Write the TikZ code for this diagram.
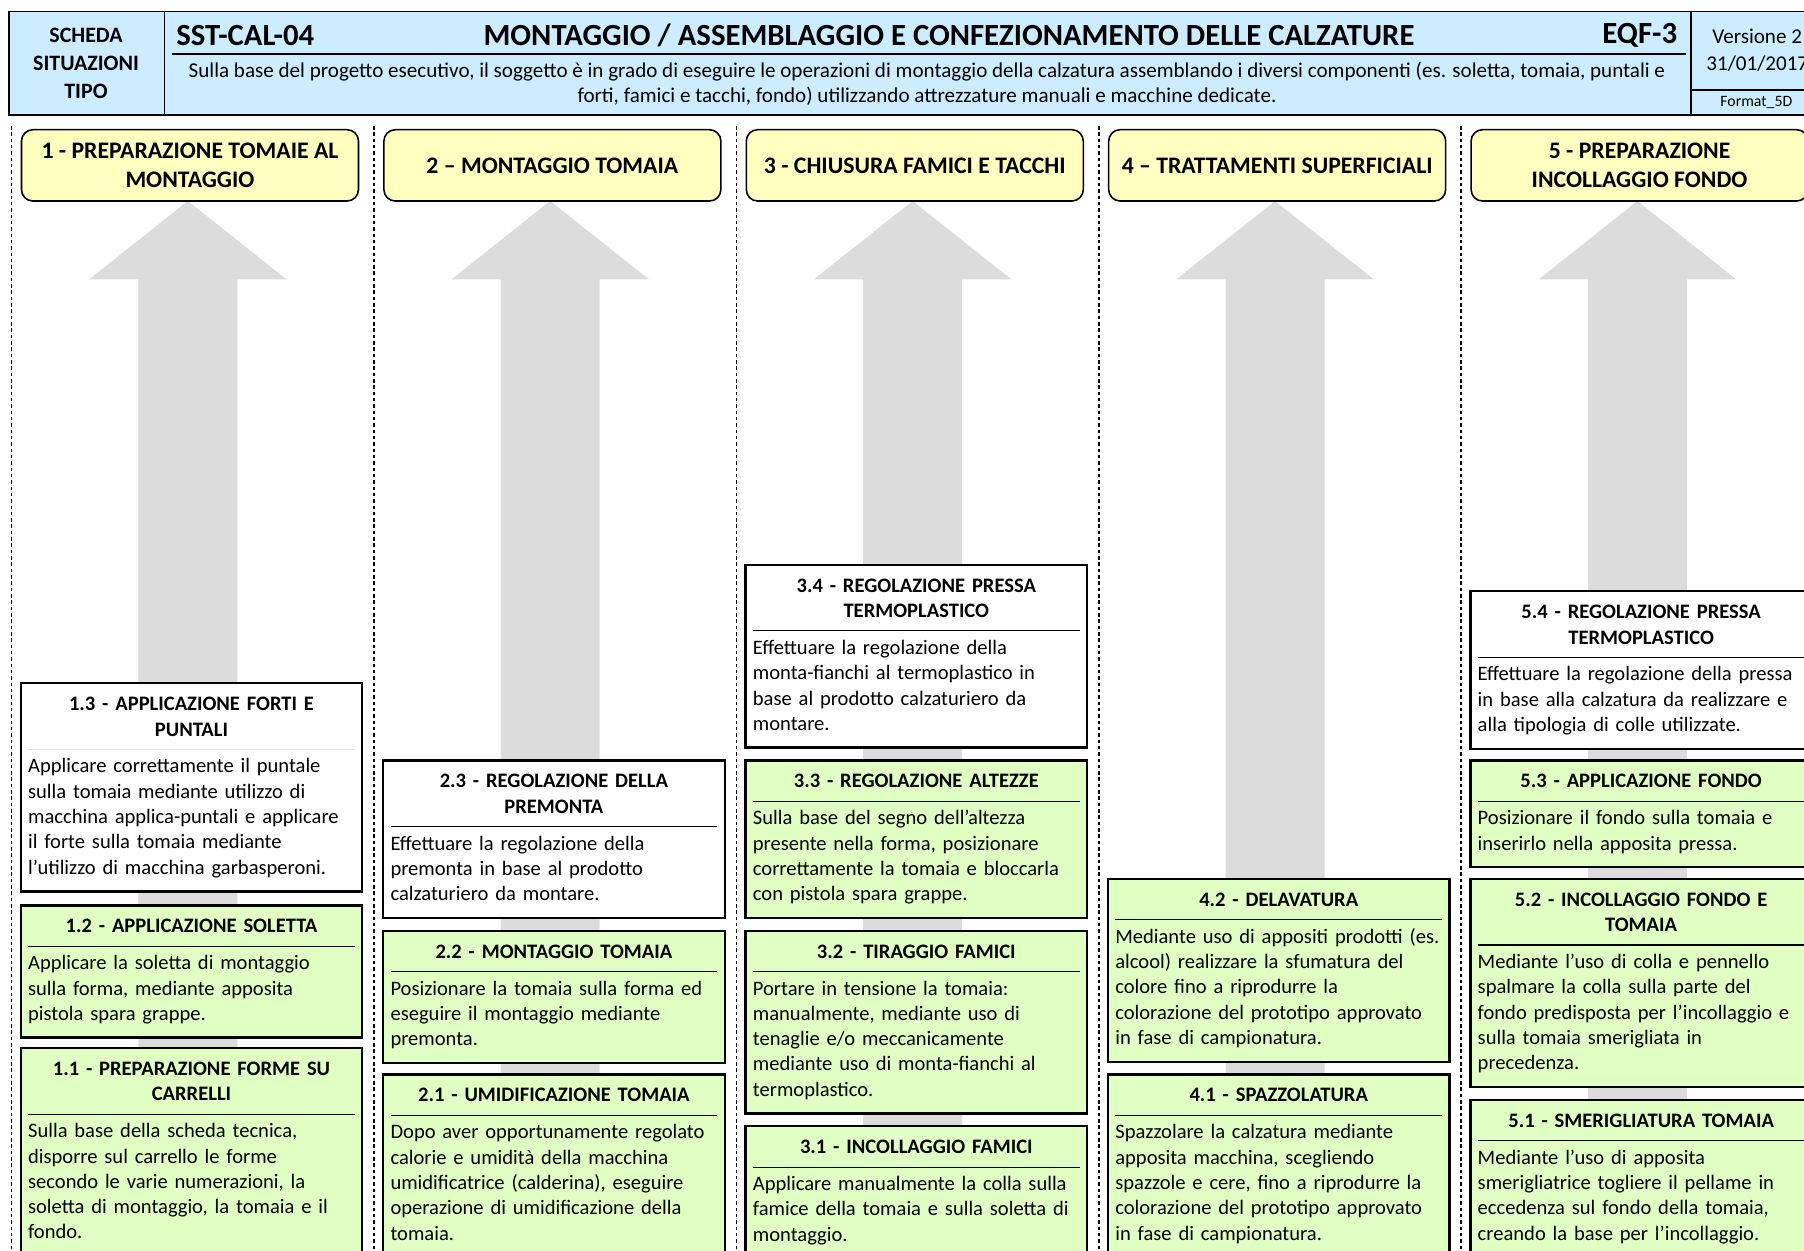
\documentclass[tikz,border=0pt]{standalone}
\usepackage{fontspec}
\setmainfont{Carlito}
\definecolor{headblue}{RGB}{204,236,255}
\definecolor{phaseyellow}{RGB}{255,255,192}
\definecolor{stepgreen}{RGB}{224,255,194}
\definecolor{arrowgrey}{RGB}{220,220,220}
\newcommand{\stepcard}[3][black]{{\centering\bfseries\strut#2\strut\par}\vspace{3pt}{\color{#1}\hrule height 0.6pt}\vspace{3pt}{\raggedright\strut#3\strut\par}}

\begin{document}
\begin{tikzpicture}[x=0.02cm, y=-0.02cm, font=\fontsize{11.7}{14.4}\selectfont,
  headtext/.style={inner sep=0pt},
  phase/.style={draw, line width=0.9pt, rounded corners=6.5pt, fill=phaseyellow, anchor=north west,
    minimum width=191.8pt, minimum height=40.6pt, align=center, inner sep=2pt,
    font=\bfseries\fontsize{13.5}{16.4}\selectfont},
  stepbox/.style={draw, line width=1.3pt, anchor=north west, text width=186pt,
    inner xsep=4.2pt, inner ysep=5.5pt},
  greenstep/.style={stepbox, fill=stepgreen},
  whitestep/.style={stepbox, fill=white},
  divider/.style={line width=0.9pt, dash pattern=on 2pt off 1.6pt}]
\clip (0,0) rectangle (1804,1250);

\draw[line width=1pt, fill=headblue] (9,11.5) rectangle (1830,115);
\draw[line width=1pt] (164.5,11.5) -- (164.5,115);
\draw[line width=1pt] (1691,11.5) -- (1691,115);
\draw[line width=1pt] (1691,90) -- (1830,90);
\draw[line width=0.8pt] (172,54) -- (1686,54);

\node[headtext, align=center, font=\bfseries\fontsize{12.5}{16}\selectfont] (scheda) at (86,63.3) {SCHEDA\\SITUAZIONI\\TIPO};
\node[headtext, anchor=west, font=\bfseries\fontsize{17.5}{20}\selectfont] (code) at (176,35.7) {SST-CAL-04};
\node[headtext, font=\bfseries\fontsize{17.5}{20}\selectfont] (title) at (949,35.7) {MONTAGGIO / ASSEMBLAGGIO E CONFEZIONAMENTO DELLE CALZATURE};
\node[headtext, anchor=east, font=\bfseries\fontsize{17.5}{20}\selectfont] (eqf) at (1677.5,35.7) {EQF-3};
\node[headtext, align=center, font=\fontsize{12}{14.4}\selectfont] (desc) at (927,84) {Sulla base del progetto esecutivo, il soggetto è in grado di eseguire le operazioni di montaggio della calzatura assemblando i diversi componenti (es. soletta, tomaia, puntali e\\forti, famici e tacchi, fondo) utilizzando attrezzature manuali e macchine dedicate.};
\node[headtext, anchor=west, font=\fontsize{12}{14.4}\selectfont] (version) at (1712,36.8) {Versione 2};
\node[headtext, anchor=west, font=\fontsize{12}{14.4}\selectfont] (date) at (1706,63.3) {31/01/2017};
\node[headtext, anchor=west, font=\fontsize{9}{11}\selectfont] (format) at (1720,102.4) {Format\_5D};

\fill[arrowgrey] (187.8,201) -- ++(98.7,78.3) -- ++(-49.2,0) -- ++(0,980) -- ++(-99,0) -- ++(0,-980) -- ++(-49.2,0) -- cycle;
\fill[arrowgrey] (550.2,201) -- ++(98.7,78.3) -- ++(-49.2,0) -- ++(0,980) -- ++(-99,0) -- ++(0,-980) -- ++(-49.2,0) -- cycle;
\fill[arrowgrey] (912.6,201) -- ++(98.7,78.3) -- ++(-49.2,0) -- ++(0,980) -- ++(-99,0) -- ++(0,-980) -- ++(-49.2,0) -- cycle;
\fill[arrowgrey] (1275,201) -- ++(98.7,78.3) -- ++(-49.2,0) -- ++(0,980) -- ++(-99,0) -- ++(0,-980) -- ++(-49.2,0) -- cycle;
\fill[arrowgrey] (1637.4,201) -- ++(98.7,78.3) -- ++(-49.2,0) -- ++(0,980) -- ++(-99,0) -- ++(0,-980) -- ++(-49.2,0) -- cycle;

\draw[divider] (11.5,126) -- (11.5,1250);
\draw[divider] (373.9,126) -- (373.9,1250);
\draw[divider] (736.3,126) -- (736.3,1250);
\draw[divider] (1098.7,126) -- (1098.7,1250);
\draw[divider] (1461.1,126) -- (1461.1,1250);

\node[phase] (phase1) at (20.7,128.9) {1 - PREPARAZIONE TOMAIE AL\\MONTAGGIO};
\node[phase] (phase2) at (383.1,128.9) {2 – MONTAGGIO TOMAIA};
\node[phase] (phase3) at (745.5,128.9) {3 - CHIUSURA FAMICI E TACCHI};
\node[phase] (phase4) at (1107.9,128.9) {4 – TRATTAMENTI SUPERFICIALI};
\node[phase] (phase5) at (1470.3,128.9) {5 - PREPARAZIONE\\INCOLLAGGIO FONDO};

\node[whitestep] (step13) at (19.6,682.2) {\stepcard[gray!25]{1.3 - APPLICAZIONE FORTI E\\PUNTALI}{Applicare correttamente il puntale\\sulla tomaia mediante utilizzo di\\macchina applica-puntali e applicare\\il forte sulla tomaia mediante\\l’utilizzo di macchina garbasperoni.}};
\node[greenstep] (step12) at (19.6,904.3) {\stepcard{1.2 - APPLICAZIONE SOLETTA}{Applicare la soletta di montaggio\\sulla forma, mediante apposita\\pistola spara grappe.}};
\node[greenstep] (step11) at (19.6,1047) {\stepcard{1.1 - PREPARAZIONE FORME SU\\CARRELLI}{Sulla base della scheda tecnica,\\disporre sul carrello le forme\\secondo le varie numerazioni, la\\soletta di montaggio, la tomaia e il\\fondo.}};

\node[whitestep] (step23) at (382,759.3) {\stepcard{2.3 - REGOLAZIONE DELLA\\PREMONTA}{Effettuare la regolazione della\\premonta in base al prodotto\\calzaturiero da montare.}};
\node[greenstep] (step22) at (382,929.6) {\stepcard{2.2 - MONTAGGIO TOMAIA}{Posizionare la tomaia sulla forma ed\\eseguire il montaggio mediante\\premonta.}};
\node[greenstep] (step21) at (382,1073.4) {\stepcard{2.1 - UMIDIFICAZIONE TOMAIA}{Dopo aver opportunamente regolato\\calorie e umidità della macchina\\umidificatrice (calderina), eseguire\\operazione di umidificazione della\\tomaia.}};

\node[whitestep] (step34) at (744.4,563.7) {\stepcard{3.4 - REGOLAZIONE PRESSA\\TERMOPLASTICO}{Effettuare la regolazione della\\monta-fianchi al termoplastico in\\base al prodotto calzaturiero da\\montare.}};
\node[greenstep] (step33) at (744.4,759.3) {\stepcard{3.3 - REGOLAZIONE ALTEZZE}{Sulla base del segno dell’altezza\\presente nella forma, posizionare\\correttamente la tomaia e bloccarla\\con pistola spara grappe.}};
\node[greenstep] (step32) at (744.4,929.6) {\stepcard{3.2 - TIRAGGIO FAMICI}{Portare in tensione la tomaia:\\manualmente, mediante uso di\\tenaglie e/o meccanicamente\\mediante uso di monta-fianchi al\\termoplastico.}};
\node[greenstep] (step31) at (744.4,1125.2) {\stepcard{3.1 - INCOLLAGGIO FAMICI}{Applicare manualmente la colla sulla\\famice della tomaia e sulla soletta di\\montaggio.}};

\node[greenstep] (step42) at (1106.8,877.8) {\stepcard{4.2 - DELAVATURA}{Mediante uso di appositi prodotti (es.\\alcool) realizzare la sfumatura del\\colore fino a riprodurre la\\colorazione del prototipo approvato\\in fase di campionatura.}};
\node[greenstep] (step41) at (1106.8,1073.4) {\stepcard{4.1 - SPAZZOLATURA}{Spazzolare la calzatura mediante\\apposita macchina, scegliendo\\spazzole e cere, fino a riprodurre la\\colorazione del prototipo approvato\\in fase di campionatura.}};

\node[whitestep] (step54) at (1469.2,590.2) {\stepcard{5.4 - REGOLAZIONE PRESSA\\TERMOPLASTICO}{Effettuare la regolazione della pressa\\in base alla calzatura da realizzare e\\alla tipologia di colle utilizzate.}};
\node[greenstep] (step53) at (1469.2,759.3) {\stepcard{5.3 - APPLICAZIONE FONDO}{Posizionare il fondo sulla tomaia e\\inserirlo nella apposita pressa.}};
\node[greenstep] (step52) at (1469.2,877.8) {\stepcard{5.2 - INCOLLAGGIO FONDO E\\TOMAIA}{Mediante l’uso di colla e pennello\\spalmare la colla sulla parte del\\fondo predisposta per l’incollaggio e\\sulla tomaia smerigliata in\\precedenza.}};
\node[greenstep] (step51) at (1469.2,1098.7) {\stepcard{5.1 - SMERIGLIATURA TOMAIA}{Mediante l’uso di apposita\\smerigliatrice togliere il pellame in\\eccedenza sul fondo della tomaia,\\creando la base per l’incollaggio.}};
\end{tikzpicture}
\end{document}
